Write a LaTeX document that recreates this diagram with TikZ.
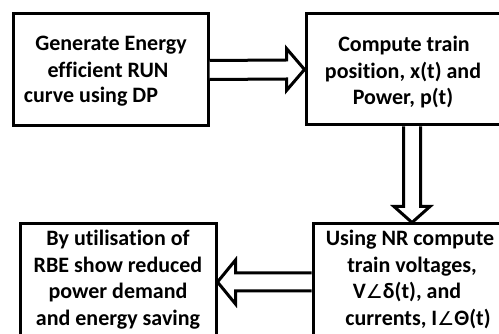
\documentclass[tikz,border=0pt]{standalone}
\usepackage{fontspec}
\setmainfont[Ligatures=NoCommon]{Carlito}
\newfontfamily\symf{DejaVu Sans}
\usetikzlibrary{calc}
\newcommand{\ang}{{\symf\mdseries\fontsize{19pt}{26.5pt}\selectfont ∠}}
\tikzset{
  box/.style={draw=black, line width=3pt, fill=white, rectangle, inner sep=0pt},
  blk/.style={draw=black, line width=3pt, line join=miter, fill=white},
  txt/.style={anchor=base, inner sep=0pt, font=\fontsize{22pt}{26.5pt}\selectfont\bfseries}
}
\begin{document}
\begin{tikzpicture}[x=1pt,y=-1pt]
\useasboundingbox (0,0) rectangle (499,334);
\clip (0,0) rectangle (499,334);
% boxes
\node[box, minimum width=195pt, minimum height=112pt] (b1) at (110.5,70) {};
\node[box, minimum width=212pt, minimum height=111pt] (b2) at (412,69.5) {};
\node[box, minimum width=196pt, minimum height=116pt] (b3) at (118,282) {};
\node[box, minimum width=198pt, minimum height=116pt] (b4) at (412,282) {};
% block arrows
\draw[blk] ($(b1.east)+(0,-9.5)$) -- ($(b2.west)+(-18,-9.5)$) -- ($(b2.west)+(-18,-21)$) -- (b2.west)
  -- ($(b2.west)+(-18,21)$) -- ($(b2.west)+(-18,9.5)$) -- ($(b1.east)+(0,9.5)$);
\draw[blk] ($(b2.south)+(-8.5,0)$) -- ($(b4.north)+(-8.5,-16)$) -- ($(b4.north)+(-18,-16)$) -- (b4.north)
  -- ($(b4.north)+(18,-16)$) -- ($(b4.north)+(8.5,-16)$) -- ($(b2.south)+(8.5,0)$);
\draw[blk] ($(b4.west)+(0,-9)$) -- ($(b3.east)+(18,-9)$) -- ($(b3.east)+(18,-22)$) -- (b3.east)
  -- ($(b3.east)+(18,22)$) -- ($(b3.east)+(18,9)$) -- ($(b4.west)+(0,9)$);
% texts box 1
\node[txt] (t1a) at (111,51) {Generate Energy};
\node[txt] (t1b) at (108,77.5) {efficient RUN};
\node[txt] (t1c) at (91,103) {curve using DP};
% texts box 2
\node[txt] (t2a) at (404,52) {Compute train};
\node[txt] (t2b) at (403,78.5) {position, x(t) and};
\node[txt] (t2c) at (403,105) {Power, p(t)};
% texts box 3
\node[txt] (t3a) at (118,246) {By utilisation of};
\node[txt] (t3b) at (118,272.5) {RBE show reduced};
\node[txt] (t3c) at (118,299) {power demand};
\node[txt] (t3d) at (118,325.5) {and energy saving};
% texts box 4
\node[txt] (t4a) at (410,246) {Using NR compute};
\node[txt] (t4b) at (412,272.5) {train voltages,};
\node[txt] (t4c) at (407,299) {V\ang δ(t), and};
\node[txt] (t4d) at (418,325.5) {currents, I\ang Θ(t)};
\end{tikzpicture}
\end{document}
